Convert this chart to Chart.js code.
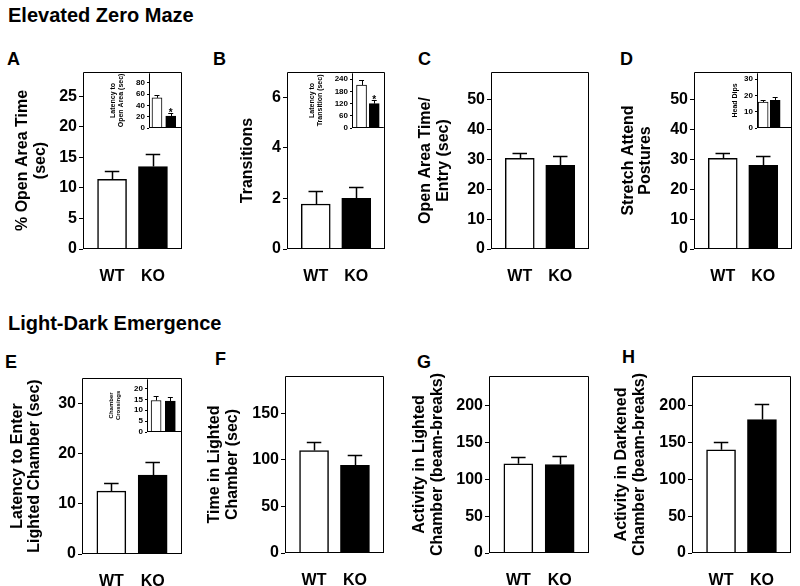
<!DOCTYPE html>
<html><head><meta charset="utf-8">
<script src="https://cdn.jsdelivr.net/npm/chart.js@4.4.1/dist/chart.umd.min.js"></script>
<style>
html,body{margin:0;padding:0;background:#fff;}
body{width:800px;height:586px;position:relative;overflow:hidden;font-family:"Liberation Sans",Arial,sans-serif;color:#000;}
canvas{position:absolute;}
.hdr{position:absolute;font-weight:bold;font-size:20px;line-height:1;white-space:nowrap;}
.lt{position:absolute;font-weight:bold;font-size:18px;line-height:1;}
</style></head><body>
<div class="hdr" style="left:8px;top:5px">Elevated Zero Maze</div>
<div class="hdr" style="left:8px;top:313px">Light-Dark Emergence</div>
<div class="lt" style="left:7px;top:50px">A</div>
<div class="lt" style="left:213px;top:50px">B</div>
<div class="lt" style="left:418px;top:50px">C</div>
<div class="lt" style="left:620px;top:50px">D</div>
<div class="lt" style="left:5px;top:353px">E</div>
<div class="lt" style="left:215px;top:350px">F</div>
<div class="lt" style="left:417px;top:353px">G</div>
<div class="lt" style="left:622px;top:348px">H</div>
<script>
// ---- data ----
const groups = ['WT', 'KO'];
// A: Elevated zero maze
const openAreaTimePct = [11.4, 13.5];
const openAreaTimePctSem = [1.3, 2.0];
const latencyOpenArea = [53.5, 21];
const latencyOpenAreaSem = [5.5, 6.5];
const latencyOpenAreaSig = ['', '*'];
// B
const transitions = [1.78, 2.0];
const transitionsSem = [0.5, 0.45];
const latencyTransition = [212, 120];
const latencyTransitionSem = [24, 20];
const latencyTransitionSig = ['', '*'];
// C
const openTimePerEntry = [30.4, 28.0];
const openTimePerEntrySem = [1.9, 3.3];
// D
const stretchAttend = [30.4, 28.0];
const stretchAttendSem = [1.8, 3.3];
const headDips = [16, 17];
const headDipsSem = [1.5, 2];
// E: Light-dark emergence
const latencyLighted = [12.5, 15.7];
const latencyLightedSem = [1.7, 2.5];
const chamberCrossings = [14.5, 14.2];
const chamberCrossingsSem = [2.2, 1.8];
// F
const timeLighted = [110, 94];
const timeLightedSem = [9.5, 11.5];
// G
const activityLighted = [121, 120];
const activityLightedSem = [9, 12];
// H
const activityDark = [140, 181];
const activityDarkSem = [11, 21];

Chart.defaults.font.family = "'Liberation Sans', Arial, sans-serif";
Chart.defaults.color = '#000';

const boxPlugin = {
  id: 'box',
  afterDatasetsDraw(chart, args, opts) {
    const {ctx, chartArea: a} = chart;
    const s = opts.sides || '';
    ctx.save();
    ctx.strokeStyle = '#000';
    ctx.lineWidth = 1;
    ctx.beginPath();
    const L = a.left + 0.5, R = a.right - 0.5, T = a.top + 0.5, B = a.bottom - 0.5;
    if (s.includes('l')) { ctx.moveTo(L, T); ctx.lineTo(L, B + 0.5); }
    if (s.includes('b')) { ctx.moveTo(L, B); ctx.lineTo(R + 0.5, B); }
    if (s.includes('t')) { ctx.moveTo(L, T); ctx.lineTo(R, T); }
    if (s.includes('r')) { ctx.moveTo(R, T); ctx.lineTo(R, B); }
    ctx.stroke();
    ctx.restore();
  }
};
const errPlugin = {
  id: 'err',
  afterDatasetsDraw(chart, args, opts) {
    const {ctx} = chart;
    const ys = chart.scales.y;
    chart.data.datasets.forEach((ds, di) => {
      const meta = chart.getDatasetMeta(di);
      meta.data.forEach((el, i) => {
        const v = ds.data[i].y, e = ds.sem[i];
        const yTop = Math.round(ys.getPixelForValue(v + e)) + 0.5;
        const cw = el.width * 0.5;
        ctx.save();
        ctx.strokeStyle = '#000';
        ctx.lineWidth = opts.lw;
        ctx.beginPath();
        ctx.moveTo(Math.round(el.x) + 0.5, el.y);
        ctx.lineTo(Math.round(el.x) + 0.5, yTop);
        ctx.moveTo(el.x - cw / 2, yTop);
        ctx.lineTo(el.x + cw / 2, yTop);
        ctx.stroke();
        if (ds.sig && ds.sig[i]) {
          ctx.fillStyle = '#000';
          ctx.font = 'bold ' + opts.sigSize + "px 'Liberation Sans', Arial, sans-serif";
          ctx.textAlign = 'center';
          ctx.textBaseline = 'alphabetic';
          ctx.fillText(ds.sig[i], el.x, yTop + 2);
        }
        ctx.restore();
      });
    });
  }
};

function makeChart(o) {
  const lh = o.tSize * o.tLH;
  const left = Math.floor(o.t1x - lh / 2 - 1);
  const top = o.boxT - o.padT;
  const width = o.boxR - left + o.padR;
  const height = o.boxB - top + o.xH;
  const c = document.createElement('canvas');
  c.width = width; c.height = height;
  c.style.left = left + 'px'; c.style.top = top + 'px';
  c.style.width = width + 'px'; c.style.height = height + 'px';
  document.body.appendChild(c);
  const yW = o.axisL - left;
  const tPadTop = o.t1x - left - lh / 2;
  new Chart(c, {
    type: 'bar',
    data: {
      datasets: [{
        data: o.values.map((v, i) => ({x: i, y: v})),
        sem: o.sem,
        sig: o.sig,
        backgroundColor: ['#ffffff', '#000000'],
        borderColor: '#000',
        borderWidth: o.bw,
        barThickness: o.barW
      }]
    },
    plugins: [boxPlugin, errPlugin],
    options: {
      responsive: false,
      animation: false,
      devicePixelRatio: 1,
      layout: {padding: {top: o.padT, right: o.padR, left: 0, bottom: 0}},
      plugins: {
        legend: {display: false},
        tooltip: {enabled: false},
        box: {sides: o.sides},
        err: {lw: o.elw, sigSize: o.sigSize || 10}
      },
      scales: {
        x: {
          type: 'linear', min: o.xMin, max: o.xMax, offset: false,
          grid: {display: false}, border: {display: false},
          afterBuildTicks: s => { s.ticks = groups.map((_, i) => ({value: i})); },
          afterFit: s => { s.height = o.xH; },
          ticks: {
            font: {size: o.xSize, weight: 'bold'}, padding: o.xPad,
            maxRotation: 0, autoSkip: false,
            callback: v => groups[v]
          }
        },
        y: {
          min: 0, max: o.yMax,
          grid: {drawOnChartArea: false, drawTicks: true, tickLength: o.tickL, color: '#000'},
          border: {display: false},
          afterFit: s => { s.width = yW; },
          ticks: {stepSize: o.step, includeBounds: false, font: {size: o.ySize, weight: 'bold'}, padding: o.yPad},
          title: {
            display: true, text: o.title,
            font: {size: o.tSize, weight: 'bold', lineHeight: o.tLH},
            padding: {top: tPadTop, bottom: 0}
          }
        }
      }
    }
  });
}

const mainBase = {tSize: 16, tLH: 1.1, ySize: 16, xSize: 16, xPad: 10.4, tickL: 4, yPad: 2,
  barW: 29, bw: 1.5, elw: 1.5, xMin: -0.71, xMax: 1.71, padT: 12, padR: 2, xH: 32, sides: 'lbtr'};
const insetBase = {tSize: 7, tLH: 1.1, ySize: 8, xSize: 9, xPad: 4, tickL: 2, yPad: 2,
  barW: 10, bw: 1, elw: 1, padT: 6, padR: 0, xH: 14, sides: 'lb', sigSize: 10};

// Elevated zero maze
makeChart({...mainBase, axisL: 83, boxT: 72, boxR: 182, boxB: 249, t1x: 23,
  title: ['% Open Area Time', '(sec)'], yMax: 29, step: 5, values: openAreaTimePct, sem: openAreaTimePctSem});
makeChart({...insetBase, axisL: 149, boxT: 72, boxR: 182, boxB: 128, t1x: 113,
  title: ['Latency to', 'Open Area (sec)'], yMax: 98, step: 20, xMin: -0.58, xMax: 1.82,
  values: latencyOpenArea, sem: latencyOpenAreaSem, sig: latencyOpenAreaSig});

makeChart({...mainBase, axisL: 287, boxT: 72, boxR: 385, boxB: 249, t1x: 248,
  title: 'Transitions', yMax: 7, step: 2, values: transitions, sem: transitionsSem});
makeChart({...insetBase, axisL: 352, boxT: 72, boxR: 385, boxB: 128, t1x: 312.5,
  title: ['Latency to', 'Transition (sec)'], yMax: 272, step: 60, xMin: -0.75, xMax: 1.75,
  values: latencyTransition, sem: latencyTransitionSem, sig: latencyTransitionSig});

makeChart({...mainBase, axisL: 491, boxT: 72, boxR: 589, boxB: 249, t1x: 425.7,
  title: ['Open Area Time/', 'Entry (sec)'], yMax: 59.3, step: 10, values: openTimePerEntry, sem: openTimePerEntrySem});

makeChart({...mainBase, axisL: 694, boxT: 72, boxR: 792, boxB: 249, t1x: 628.3,
  title: ['Stretch Attend', 'Postures'], yMax: 59.3, step: 10, values: stretchAttend, sem: stretchAttendSem});
makeChart({...insetBase, axisL: 757, boxT: 72, boxR: 792, boxB: 128, t1x: 735,
  title: 'Head Dips', yMax: 34, step: 10, xMin: -0.51, xMax: 2.4,
  values: headDips, sem: headDipsSem});

// Light-dark emergence
makeChart({...mainBase, axisL: 82, boxT: 378, boxR: 182, boxB: 554, t1x: 17.3,
  title: ['Latency to Enter', 'Lighted Chamber (sec)'], yMax: 35, step: 10, values: latencyLighted, sem: latencyLightedSem});
makeChart({...insetBase, tSize: 6, tLH: 1.2, axisL: 147, boxT: 378, boxR: 182, boxB: 432, t1x: 111,
  title: ['Chamber', 'Crossings'], yMax: 24.5, step: 5, xMin: -0.64, xMax: 1.82,
  values: chamberCrossings, sem: chamberCrossingsSem});

makeChart({...mainBase, axisL: 285, boxT: 376, boxR: 384, boxB: 553, t1x: 215,
  title: ['Time in Lighted', 'Chamber (sec)'], yMax: 190, step: 50, values: timeLighted, sem: timeLightedSem});

makeChart({...mainBase, axisL: 489, boxT: 376, boxR: 589, boxB: 553, t1x: 420,
  title: ['Activity in Lighted', 'Chamber (beam-breaks)'], yMax: 240, step: 50, values: activityLighted, sem: activityLightedSem});

makeChart({...mainBase, axisL: 692, boxT: 376, boxR: 791, boxB: 553, t1x: 621.7,
  title: ['Activity in Darkened', 'Chamber (beam-breaks)'], yMax: 240, step: 50, values: activityDark, sem: activityDarkSem});
</script>
</body></html>
